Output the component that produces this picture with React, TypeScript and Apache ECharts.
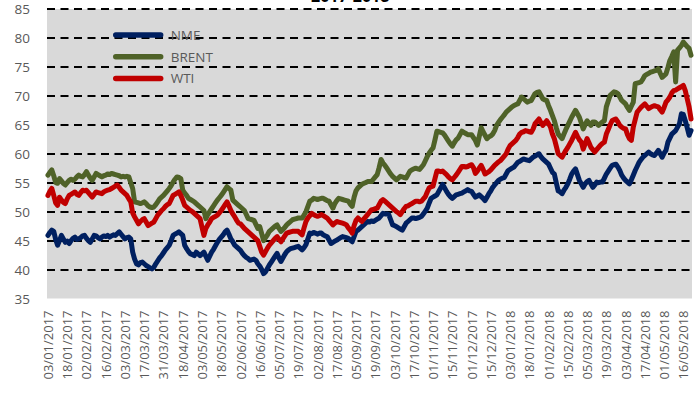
import React, { useEffect, useRef } from "react";
import * as echarts from "echarts";

// Tick labels shown on the category axis (one every 10 trading days)
const tickLabels: string[] = [
  "03/01/2017", "18/01/2017", "02/02/2017", "16/02/2017", "03/03/2017", "17/03/2017",
  "31/03/2017", "18/04/2017", "03/05/2017", "18/05/2017", "02/06/2017", "16/06/2017",
  "05/07/2017", "19/07/2017", "02/08/2017", "17/08/2017", "05/09/2017", "19/09/2017",
  "03/10/2017", "17/10/2017", "01/11/2017", "15/11/2017", "01/12/2017", "15/12/2017",
  "03/01/2018", "18/01/2018", "01/02/2018", "15/02/2018", "05/03/2018", "19/03/2018",
  "03/04/2018", "17/04/2018", "01/05/2018", "16/05/2018",
];

const seriesNames: string[] = ["NME", "BRENT", "WTI"];

const nme: number[] = [
  45.9, 46.4, 46.8, 46.6, 45.2, 44.2, 45.0, 45.9, 45.3, 44.7,
  44.9, 44.5, 45.0, 45.4, 45.6, 45.2, 45.3, 45.5, 45.8, 45.9,
  45.4, 45.0, 44.7, 45.3, 45.9, 45.8, 45.5, 45.3, 45.6, 45.8,
  45.7, 45.9, 45.6, 45.8, 46.0, 45.9, 46.2, 46.5, 46.1, 45.7,
  45.3, 45.5, 45.6, 45.3, 43.0, 41.8, 41.0, 40.8, 41.2, 41.3,
  41.0, 40.7, 40.5, 40.3, 40.1, 40.4, 41.0, 41.5, 42.0, 42.4,
  42.9, 43.4, 43.8, 44.2, 45.0, 45.9, 46.1, 46.3, 46.5, 46.2,
  45.9, 44.2, 43.6, 43.1, 42.7, 42.6, 42.4, 43.0, 42.7, 42.4,
  42.7, 43.0, 42.3, 41.6, 42.3, 43.0, 43.5, 44.1, 44.7, 45.2,
  45.6, 46.0, 46.5, 46.8, 46.1, 45.3, 44.8, 44.2, 43.9, 43.6,
  43.3, 42.8, 42.4, 42.1, 41.9, 41.6, 41.7, 41.8, 41.6, 41.0,
  40.6, 40.0, 39.3, 39.6, 40.2, 40.8, 41.3, 41.8, 42.3, 42.8,
  42.0, 41.4, 42.0, 42.6, 43.1, 43.4, 43.6, 43.7, 43.8, 43.9,
  44.0, 43.7, 43.4, 43.8, 44.3, 45.3, 46.3, 46.2, 46.4, 46.3,
  46.1, 46.3, 46.3, 46.0, 45.8, 45.7, 45.1, 44.5, 44.7, 44.9,
  45.1, 45.3, 45.5, 45.7, 45.6, 45.5, 45.4, 45.1, 44.8, 45.7,
  46.6, 46.8, 47.1, 47.4, 47.7, 48.0, 48.3, 48.2, 48.4, 48.3,
  48.5, 48.7, 48.9, 49.3, 49.7, 49.6, 49.6, 49.5, 48.6, 47.7,
  47.6, 47.4, 47.2, 47.0, 46.8, 47.4, 48.0, 48.3, 48.6, 48.9,
  48.9, 48.8, 48.9, 49.0, 49.2, 49.6, 50.1, 50.6, 51.5, 52.3,
  52.5, 52.7, 52.9, 53.5, 54.1, 54.7, 54.1, 53.5, 53.0, 52.6,
  52.3, 52.6, 52.9, 53.0, 53.1, 53.2, 53.4, 53.6, 53.8, 53.6,
  53.5, 53.0, 52.5, 52.7, 52.9, 52.6, 52.3, 51.9, 52.5, 53.1,
  53.6, 54.2, 54.6, 55.0, 55.4, 55.6, 55.8, 55.9, 56.5, 57.1,
  57.3, 57.5, 57.7, 58.1, 58.5, 58.7, 58.9, 59.1, 59.0, 58.9,
  58.8, 59.1, 59.4, 59.6, 59.8, 60.0, 59.5, 59.1, 58.8, 58.5,
  58.2, 57.5, 56.8, 56.5, 55.0, 53.6, 53.4, 53.1, 53.7, 54.2,
  54.8, 55.6, 56.5, 57.0, 57.4, 56.4, 55.4, 54.8, 54.2, 54.8,
  55.2, 55.4, 54.8, 54.2, 54.6, 55.1, 55.0, 55.1, 55.1, 55.8,
  56.5, 57.0, 57.5, 58.0, 58.1, 58.2, 57.7, 57.1, 56.3, 55.8,
  55.4, 55.1, 54.8, 55.5, 56.3, 57.1, 57.8, 58.5, 59.0, 59.4,
  59.7, 60.0, 60.3, 60.0, 59.8, 59.7, 60.1, 60.6, 60.0, 59.4,
  60.1, 60.6, 62.0, 62.7, 63.4, 63.7, 64.0, 64.6, 65.2, 66.9,
  66.8, 65.7, 64.5, 63.2, 64.0,
];

const brent: number[] = [
  56.3, 56.8, 57.2, 56.2, 55.0, 54.9, 55.7, 55.3, 54.9, 54.6,
  55.0, 55.4, 55.6, 55.4, 55.6, 56.0, 56.3, 56.1, 56.0, 56.4,
  56.9, 56.3, 55.8, 55.4, 56.0, 56.6, 56.4, 56.2, 56.0, 56.2,
  56.3, 56.5, 56.4, 56.6, 56.5, 56.4, 56.3, 56.2, 56.0, 56.1,
  56.0, 56.1, 56.0, 55.0, 54.0, 51.7, 51.6, 51.5, 51.4, 51.5,
  51.7, 51.4, 51.0, 50.8, 50.7, 50.8, 51.2, 51.7, 52.2, 52.5,
  52.8, 53.2, 53.6, 54.0, 54.5, 55.1, 55.6, 56.0, 55.9, 55.7,
  53.7, 53.2, 52.8, 52.3, 52.1, 51.9, 51.7, 51.4, 51.1, 50.8,
  50.5, 50.2, 48.8, 49.5, 50.0, 50.5, 51.0, 51.5, 52.0, 52.4,
  52.8, 53.3, 53.8, 54.3, 54.0, 53.7, 52.0, 51.7, 51.4, 51.1,
  50.8, 50.5, 50.2, 49.5, 48.8, 48.7, 48.6, 48.5, 47.8, 47.1,
  47.4, 46.2, 45.0, 45.5, 46.0, 46.6, 46.9, 47.2, 47.5, 47.7,
  47.1, 46.6, 46.9, 47.3, 47.7, 48.0, 48.3, 48.6, 48.7, 48.8,
  48.9, 48.9, 48.9, 49.4, 50.0, 50.9, 51.8, 52.0, 52.3, 52.2,
  52.1, 52.2, 52.3, 52.3, 52.1, 51.9, 51.8, 51.2, 50.6, 51.4,
  51.9, 52.3, 52.2, 52.1, 52.0, 51.9, 51.8, 51.3, 50.9, 52.5,
  53.6, 54.1, 54.4, 54.7, 54.9, 55.0, 55.2, 55.2, 55.2, 55.6,
  56.0, 56.4, 57.6, 59.0, 58.4, 58.0, 57.5, 57.0, 56.5, 56.1,
  55.8, 55.5, 55.8, 56.1, 56.0, 55.9, 55.8, 56.4, 57.0, 57.2,
  57.4, 57.5, 57.4, 57.3, 57.7, 58.1, 58.8, 59.5, 60.1, 60.6,
  61.0, 62.4, 63.9, 63.8, 63.7, 63.6, 63.2, 62.7, 62.2, 61.7,
  61.3, 61.9, 62.4, 62.7, 63.3, 63.9, 63.7, 63.5, 63.3, 63.3,
  63.3, 62.8, 62.3, 61.5, 63.0, 64.5, 63.8, 63.2, 62.6, 62.9,
  63.1, 63.4, 64.0, 64.9, 65.4, 65.9, 66.3, 66.7, 67.2, 67.5,
  67.8, 68.1, 68.3, 68.5, 68.6, 69.2, 69.8, 69.5, 69.2, 68.9,
  69.1, 69.2, 69.8, 70.4, 70.6, 70.7, 70.1, 69.5, 69.3, 69.2,
  68.3, 67.5, 66.6, 65.7, 64.5, 63.4, 63.0, 62.6, 63.4, 64.2,
  64.9, 65.6, 66.3, 66.9, 67.5, 66.9, 66.3, 65.3, 64.3, 65.0,
  65.7, 65.3, 64.9, 65.5, 65.5, 65.2, 64.9, 65.2, 65.5, 65.7,
  68.1, 69.1, 70.1, 70.4, 70.7, 70.6, 70.4, 69.8, 69.2, 68.9,
  68.6, 68.0, 67.5, 68.2, 68.9, 72.1, 72.2, 72.3, 72.4, 72.9,
  73.5, 73.7, 73.9, 74.1, 74.2, 74.3, 74.4, 74.7, 73.9, 73.2,
  73.5, 73.8, 74.9, 76.1, 76.8, 77.6, 72.4, 77.9, 78.3, 78.7,
  79.3, 78.9, 78.5, 78.2, 77.0,
];

const wti: number[] = [
  52.8, 53.5, 54.0, 52.8, 51.5, 51.1, 52.5, 52.0, 51.6, 51.4,
  52.2, 52.8, 53.0, 53.2, 53.4, 53.0, 52.8, 53.3, 53.7, 53.6,
  53.7, 53.3, 52.9, 52.5, 53.0, 53.4, 53.3, 53.2, 53.1, 53.4,
  53.6, 53.7, 53.8, 54.0, 54.2, 54.4, 54.6, 54.2, 53.7, 53.4,
  53.1, 52.8, 52.2, 51.7, 49.8, 49.1, 48.5, 47.9, 48.3, 48.6,
  48.8, 48.2, 47.6, 47.8, 48.0, 48.2, 48.8, 49.4, 49.8, 50.2,
  50.5, 50.9, 51.2, 51.4, 52.1, 52.8, 53.0, 53.2, 53.4, 52.8,
  52.0, 51.1, 50.8, 50.5, 50.2, 50.0, 49.7, 49.4, 49.1, 48.8,
  47.3, 45.9, 47.1, 47.7, 48.2, 48.8, 49.0, 49.2, 49.4, 49.8,
  50.2, 50.7, 51.2, 51.7, 51.0, 50.2, 49.6, 49.1, 48.5, 48.0,
  47.9, 47.5, 47.1, 46.8, 46.5, 46.2, 45.9, 45.6, 45.3, 45.0,
  44.0, 43.0, 42.5, 43.1, 43.7, 44.2, 44.6, 45.0, 45.4, 45.7,
  45.2, 44.8, 45.3, 45.8, 46.3, 46.4, 46.5, 46.6, 46.6, 46.6,
  46.6, 46.3, 46.0, 47.2, 48.3, 48.9, 49.3, 49.7, 49.5, 49.3,
  49.2, 49.3, 49.5, 49.3, 49.1, 48.9, 48.5, 48.1, 47.7, 48.0,
  48.3, 48.2, 48.1, 48.0, 47.9, 47.7, 47.2, 46.8, 46.3, 47.6,
  48.5, 48.9, 48.6, 48.3, 48.7, 49.1, 49.5, 49.9, 50.3, 50.4,
  50.5, 50.6, 51.2, 51.8, 52.1, 51.8, 51.5, 51.2, 50.9, 50.6,
  50.3, 50.0, 49.8, 49.5, 50.0, 50.5, 50.9, 51.0, 51.2, 51.4,
  51.6, 51.8, 51.8, 51.7, 51.8, 52.2, 52.6, 53.4, 54.1, 54.3,
  54.4, 55.7, 57.0, 57.0, 56.9, 57.0, 56.7, 56.4, 56.0, 55.7,
  55.5, 55.9, 56.3, 56.8, 57.3, 57.8, 57.8, 57.7, 57.8, 58.0,
  58.1, 57.6, 56.6, 57.0, 57.5, 58.0, 57.3, 56.5, 56.7, 56.9,
  57.2, 57.6, 58.0, 58.3, 58.6, 58.8, 59.2, 59.6, 60.0, 60.8,
  61.4, 61.7, 62.0, 62.3, 62.8, 63.4, 63.7, 63.8, 64.0, 63.9,
  63.8, 63.7, 64.3, 65.2, 65.6, 66.0, 65.4, 64.9, 65.3, 65.7,
  65.2, 64.6, 63.4, 62.6, 61.3, 60.0, 59.7, 59.4, 60.0, 60.6,
  61.1, 61.7, 62.3, 63.0, 63.7, 63.0, 62.4, 62.0, 60.8, 61.7,
  62.6, 61.9, 61.1, 60.7, 60.3, 60.7, 61.1, 61.5, 61.8, 62.0,
  63.4, 64.2, 65.0, 65.7, 65.9, 66.0, 65.5, 64.9, 64.6, 64.4,
  64.3, 63.3, 62.6, 62.3, 64.6, 65.9, 67.2, 67.6, 68.0, 68.3,
  68.6, 68.2, 67.8, 68.0, 68.2, 68.3, 68.2, 68.1, 67.6, 67.2,
  68.0, 68.9, 69.3, 69.8, 70.5, 70.9, 71.0, 71.2, 71.4, 71.6,
  71.8, 70.9, 69.5, 68.1, 66.0,
];

function pad(n: number): string {
  return n < 10 ? "0" + n : "" + n;
}

// business days following a labelled date (intermediate, unlabelled categories)
function followingWorkdays(label: string, count: number): string[] {
  const [d, m, y] = label.split("/").map(Number);
  const dt = new Date(Date.UTC(y, m - 1, d));
  const out: string[] = [];
  while (out.length < count) {
    dt.setUTCDate(dt.getUTCDate() + 1);
    const wd = dt.getUTCDay();
    if (wd !== 0 && wd !== 6) {
      out.push(pad(dt.getUTCDate()) + "/" + pad(dt.getUTCMonth() + 1) + "/" + dt.getUTCFullYear());
    }
  }
  return out;
}

const categories: string[] = [];
tickLabels.forEach((lab, k) => {
  categories.push(lab);
  const n = k < tickLabels.length - 1 ? 9 : nme.length - categories.length;
  categories.push(...followingWorkdays(lab, n));
});

const FONT = '"Open Sans", "Noto Sans", sans-serif';

export default function App() {
  const ref = useRef<HTMLDivElement>(null);
  useEffect(() => {
    if (!ref.current) return;
    const chart = echarts.init(ref.current, undefined, { renderer: "svg" });
    const colors = ["#002060", "#4f6228", "#c00000"];
    const values = [nme, brent, wti];
    chart.setOption({
      animation: false,
      backgroundColor: "#ffffff",
      textStyle: { fontFamily: FONT },
      grid: {
        left: 47,
        right: 3,
        top: 9,
        bottom: 116.5,
        show: true,
        backgroundColor: "#d9d9d9",
        borderWidth: 0,
      },
      graphic: [
        {
          type: "text",
          left: 311,
          top: -12,
          style: {
            text: "2017-2018",
            font: 'bold 16px "Open Sans", sans-serif',
            fill: "#000000",
          },
        },
      ],
      legend: {
        orient: "vertical",
        left: 113,
        top: 27,
        padding: 0,
        itemWidth: 55,
        itemHeight: 5.5,
        itemGap: 5.7,
        icon: "path://M3,0L52,0A3,3,0,0,1,52,6L3,6A3,3,0,0,1,3,0Z",
        data: seriesNames,
        textStyle: { color: "#595959", fontSize: 13.5, fontFamily: FONT, lineHeight: 16 },
      },
      xAxis: {
        type: "category",
        data: categories,
        boundaryGap: true,
        axisLine: { show: false },
        axisTick: { show: false },
        splitLine: { show: false },
        axisLabel: {
          interval: 9,
          rotate: 90,
          margin: 12,
          color: "#595959",
          fontSize: 13,
          fontFamily: FONT,
        },
      },
      yAxis: {
        type: "value",
        min: 35,
        max: 85,
        interval: 5,
        axisLine: { show: false },
        axisTick: { show: false },
        axisLabel: { color: "#595959", fontSize: 13.5, fontFamily: FONT, margin: 17 },
        splitLine: {
          show: true,
          showMinLine: false,
          lineStyle: { color: "#000000", width: 2, type: [8, 5.5] },
        },
      },
      series: seriesNames.map((name, k) => ({
        name,
        type: "line",
        data: values[k],
        showSymbol: false,
        symbol: "none",
        color: colors[k],
        lineStyle: { width: 5, color: colors[k], cap: "round", join: "round" },
      })),
    });
    return () => chart.dispose();
  }, []);
  return (
    <div
      ref={ref}
      style={{ position: "fixed", left: 0, top: 0, width: 695, height: 415 }}
    />
  );
}
